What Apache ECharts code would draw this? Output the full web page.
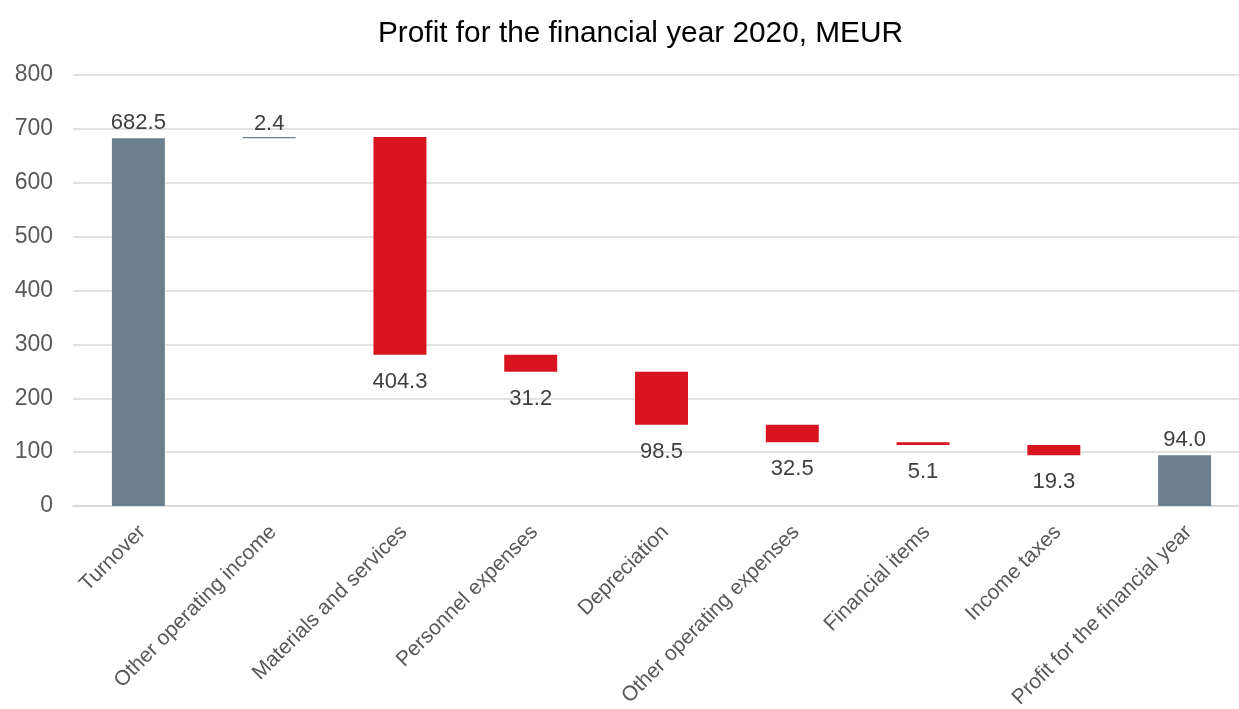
<!DOCTYPE html>
<html>
<head>
<meta charset="utf-8">
<script src="https://cdn.jsdelivr.net/npm/echarts@6/dist/echarts.min.js"></script>
<style>html,body{margin:0;padding:0;background:#fff}#c{width:1239px;height:709px}</style>
</head>
<body>
<div id="c"></div>
<script>
const categories = ["Turnover","Other operating income","Materials and services","Personnel expenses","Depreciation","Other operating expenses","Financial items","Income taxes","Profit for the financial year"];
const values = [682.5, 2.4, -404.3, -31.2, -98.5, -32.5, -5.1, -19.3, 94.0];
const isTotal = [true, false, false, false, false, false, false, false, true];
const yTicks = [0, 100, 200, 300, 400, 500, 600, 700, 800];

const GRAY = '#6b7f8c', RED = '#d7141f';
let running = 0;
const baseData = [], barData = [];
values.forEach((v, i) => {
  if (isTotal[i]) {
    baseData.push(0);
    running = v;
    barData.push({value: v, itemStyle: {color: GRAY}, label: {position: 'top', distance: 4}});
  } else if (v >= 0) {
    baseData.push(running);
    running += v;
    barData.push({value: v, itemStyle: {color: GRAY}, label: {position: 'top', distance: 2}});
  } else {
    running += v;
    baseData.push(running);
    barData.push({value: -v, itemStyle: {color: RED}, label: {position: 'bottom', distance: 16}});
  }
});

const chart = echarts.init(document.getElementById('c'));
chart.setOption({
  backgroundColor: '#fff',
  animation: false,
  title: {
    text: 'Profit for the financial year 2020, MEUR',
    left: 373, top: 14,
    textStyle: {fontFamily: 'Liberation Sans', fontSize: 29.8, fontWeight: 'normal', color: '#000'}
  },
  grid: {left: 73, width: 1177, top: 75, bottom: 203, containLabel: false, outerBoundsMode: 'none'},
  xAxis: {
    type: 'category', data: categories,
    axisLine: {lineStyle: {color: '#d9d9d9', width: 1.5}},
    axisTick: {show: false},
    axisLabel: {rotate: 45, interval: 0, margin: 19, verticalAlign: 'top', lineHeight: 11,
                fontFamily: 'Liberation Sans', fontSize: 21, color: '#595959'}
  },
  yAxis: {
    type: 'value', min: yTicks[0], max: yTicks[yTicks.length - 1], interval: 100,
    axisLine: {show: false}, axisTick: {show: false},
    splitLine: {lineStyle: {color: '#d9d9d9', width: 1.5}},
    axisLabel: {margin: 20, fontFamily: 'Liberation Sans', fontSize: 23, color: '#595959'}
  },
  series: [
    {type: 'bar', stack: 'w', data: baseData, itemStyle: {color: 'transparent'}, silent: true, barWidth: '40.5%'},
    {type: 'bar', stack: 'w', data: barData, barWidth: '40.5%',
     label: {show: true, fontFamily: 'Liberation Sans', fontSize: 22, color: '#404040',
             formatter: p => p.value.toFixed(1)}}
  ]
});
</script>
</body>
</html>
